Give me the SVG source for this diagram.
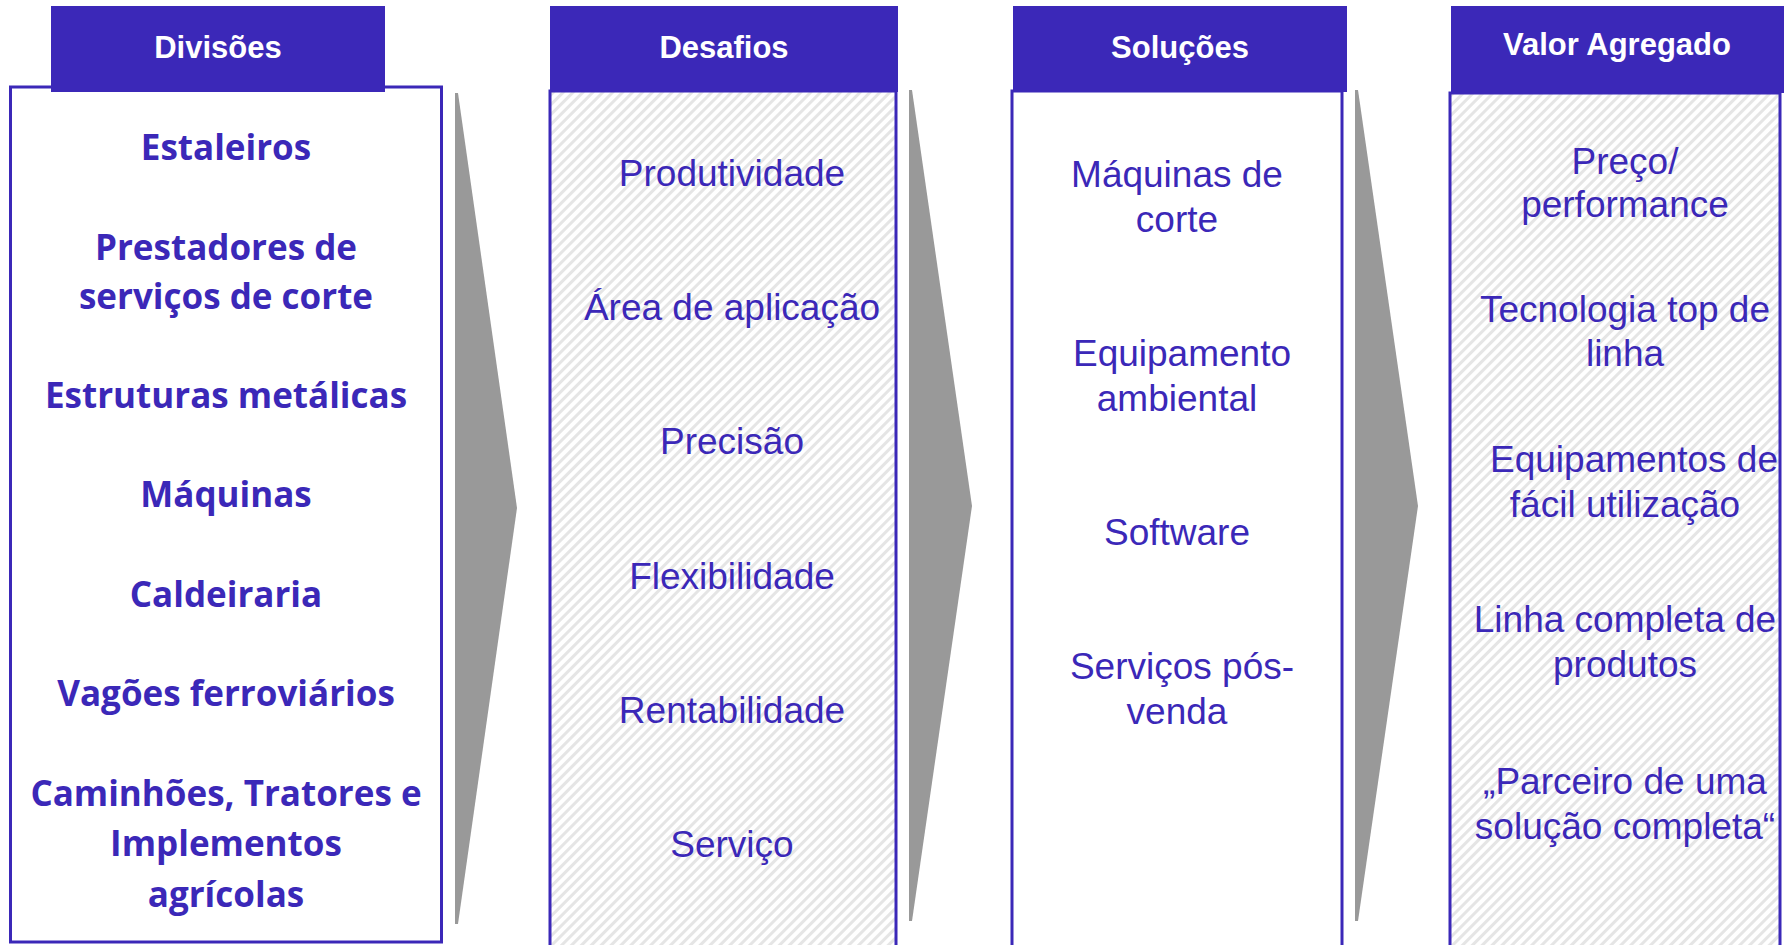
<svg xmlns="http://www.w3.org/2000/svg" width="1791" height="945" viewBox="0 0 1791 945">
  <style>
    .box { stroke: #3B28B8; stroke-width: 3; }
    .plain { fill: #FFFFFF; }
    .hatch { fill: url(#stripes); }
    .hdr { fill: #3B28B8; }
    .hdrtxt { font-family: "Liberation Sans", Arial, sans-serif; font-weight: 700; font-size: 31px; fill: #FFFFFF; text-anchor: middle; }
    .div { font-family: "Open Sans", "Noto Sans", sans-serif; font-weight: 700; font-size: 35px; fill: #3B28B8; text-anchor: middle; }
    .item { font-family: "Liberation Sans", Arial, sans-serif; font-size: 37px; fill: #3B28B8; text-anchor: middle; }
    .arrow { fill: #999999; }
  </style>
  <defs>
    <pattern id="stripes" patternUnits="userSpaceOnUse" width="7" height="7" patternTransform="rotate(45)">
      <rect x="0" y="0" width="7" height="7" fill="#FFFFFF"/>
      <rect x="0" y="0" width="3" height="7" fill="#E5E5E5"/>
    </pattern>
  </defs>
  <rect x="0" y="0" width="1791" height="945" fill="#FFFFFF"/>

  <g id="connectors">
    <polygon class="arrow" points="455,93 458,93 517,508 458,924 455,924"/>
    <polygon class="arrow" points="909,90 912,90 972,506 912,921 909,921"/>
    <polygon class="arrow" points="1355,90 1358,90 1418,506 1358,921 1355,921"/>
  </g>

  <g id="divisoes">
    <rect class="box plain" x="10.5" y="87" width="431" height="855"/>
    <rect class="hdr" x="51" y="6" width="334" height="86"/>
    <text class="hdrtxt" x="218" y="58">Divisões</text>
    <text class="div" x="226" y="160">Estaleiros</text>
    <text class="div" x="226" y="260">Prestadores de</text>
    <text class="div" x="226" y="309">serviços de corte</text>
    <text class="div" x="226" y="408">Estruturas metálicas</text>
    <text class="div" x="226" y="507">Máquinas</text>
    <text class="div" x="226" y="607">Caldeiraria</text>
    <text class="div" x="226" y="706">Vagões ferroviários</text>
    <text class="div" x="226" y="806">Caminhões, Tratores e</text>
    <text class="div" x="226" y="856">Implementos</text>
    <text class="div" x="226" y="907">agrícolas</text>
  </g>

  <g id="desafios">
    <rect class="box hatch" x="550" y="91" width="346" height="900"/>
    <rect class="hdr" x="550" y="6" width="348" height="86"/>
    <text class="hdrtxt" x="724" y="58">Desafios</text>
    <text class="item" x="732" y="186">Produtividade</text>
    <text class="item" x="732" y="320">Área de aplicação</text>
    <text class="item" x="732" y="454">Precisão</text>
    <text class="item" x="732" y="589">Flexibilidade</text>
    <text class="item" x="732" y="723">Rentabilidade</text>
    <text class="item" x="732" y="857">Serviço</text>
  </g>

  <g id="solucoes">
    <rect class="box plain" x="1012" y="91" width="330" height="900"/>
    <rect class="hdr" x="1013" y="6" width="334" height="86"/>
    <text class="hdrtxt" x="1180" y="58">Soluções</text>
    <text class="item" x="1177" y="187">Máquinas de</text>
    <text class="item" x="1177" y="232">corte</text>
    <text class="item" x="1182" y="366">Equipamento</text>
    <text class="item" x="1177" y="411">ambiental</text>
    <text class="item" x="1177" y="545">Software</text>
    <text class="item" x="1182" y="679">Serviços pós-</text>
    <text class="item" x="1177" y="724">venda</text>
  </g>

  <g id="valor-agregado">
    <rect class="box hatch" x="1450" y="93" width="330" height="900"/>
    <rect class="hdr" x="1451" y="6" width="333" height="87"/>
    <text class="hdrtxt" x="1617" y="55">Valor Agregado</text>
    <text class="item" x="1625" y="174">Preço/</text>
    <text class="item" x="1625" y="217">performance</text>
    <text class="item" x="1625" y="322">Tecnologia top de</text>
    <text class="item" x="1625" y="366">linha</text>
    <text class="item" x="1634" y="472">Equipamentos de</text>
    <text class="item" x="1625" y="517">fácil utilização</text>
    <text class="item" x="1625" y="632">Linha completa de</text>
    <text class="item" x="1625" y="677">produtos</text>
    <text class="item" x="1625" y="794">„Parceiro de uma</text>
    <text class="item" x="1625" y="839">solução completa“</text>
  </g>
</svg>
